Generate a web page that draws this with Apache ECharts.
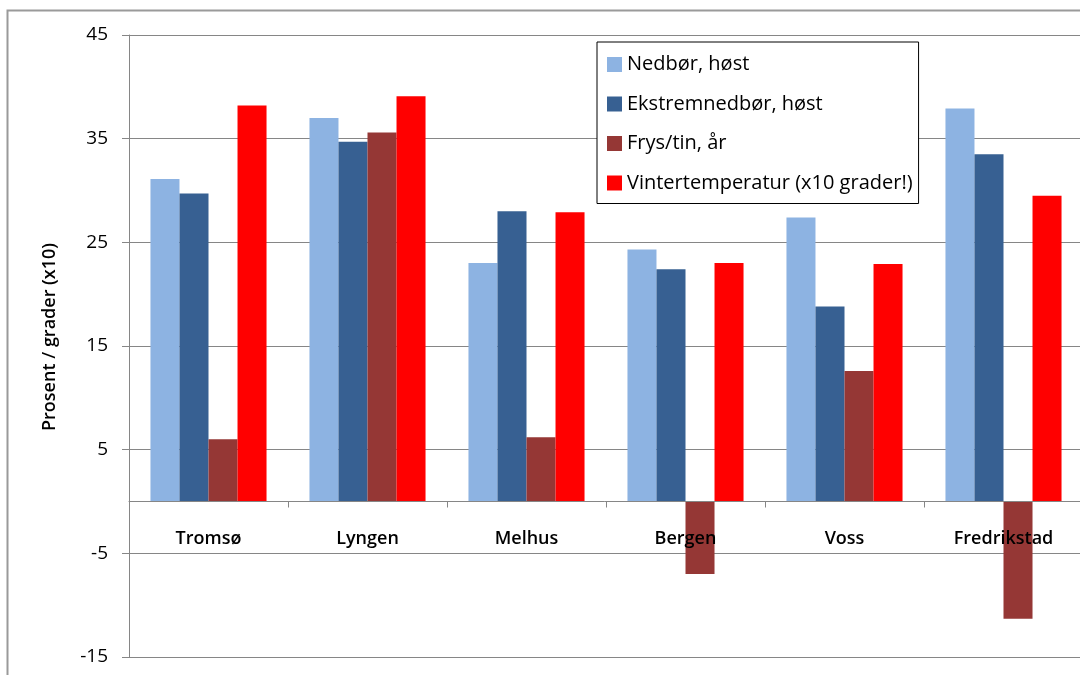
<!DOCTYPE html>
<html>
<head>
<meta charset="utf-8">
<script src="https://cdn.jsdelivr.net/npm/echarts@6/dist/echarts.min.js"></script>
<style>
  html, body { margin: 0; padding: 0; background: #fff; }
  #chart { width: 1080px; height: 675px; }
</style>
</head>
<body>
<div id="chart"></div>
<script>
// Stations along the x axis
const stations = ['Tromsø', 'Lyngen', 'Melhus', 'Bergen', 'Voss', 'Fredrikstad'];

// Series values (percent change; winter temperature in tenths of a degree)
const nedborHost = [31.1, 37.0, 23.0, 24.3, 27.4, 37.9];
const ekstremHost = [29.7, 34.7, 28.0, 22.4, 18.8, 33.5];
const frysTin = [6.0, 35.6, 6.2, -7.0, 12.6, -11.3];
const vinterTemp = [38.2, 39.1, 27.9, 23.0, 22.9, 29.5];

const seriesNames = [
  'Nedbør, høst',
  'Ekstremnedbør, høst',
  'Frys/tin, år',
  'Vintertemperatur (x10 grader!)'
];
const seriesColors = ['#8DB3E2', '#376092', '#953735', '#FF0000'];
const seriesData = [nedborHost, ekstremHost, frysTin, vinterTemp];

// Value axis range
const Y_MIN = -15, Y_MAX = 45, Y_STEP = 10;

const FONT = '"Open Sans", sans-serif';

// Plot area
const GRID_TOP = 35, GRID_BOTTOM = 18, GRID_LEFT = 129, GRID_WIDTH = 954;
const plotHeight = 675 - GRID_TOP - GRID_BOTTOM;
// Category axis sits on the zero line, with its labels just under it
const zeroOffset = -plotHeight * (0 - Y_MIN) / (Y_MAX - Y_MIN);

const chart = echarts.init(document.getElementById('chart'), null, { renderer: 'canvas' });

chart.setOption({
  backgroundColor: '#ffffff',
  animation: false,
  textStyle: { fontFamily: FONT },
  graphic: [{
    type: 'rect',
    silent: true,
    z: -1,
    shape: { x: 7.5, y: 10.5, width: 1100, height: 700 },
    style: { fill: 'none', stroke: '#9a9a9a', lineWidth: 2 }
  }],
  grid: {
    left: GRID_LEFT, top: GRID_TOP, width: GRID_WIDTH, bottom: GRID_BOTTOM,
    containLabel: false, outerBoundsMode: 'none'
  },
  legend: {
    orient: 'vertical',
    left: 597,
    top: 42,
    z: 20,
    backgroundColor: '#ffffff',
    borderColor: '#000000',
    borderWidth: 1,
    padding: [10, 6, 8, 10],
    itemWidth: 15,
    itemHeight: 15,
    itemGap: 14.5,
    icon: 'rect',
    selectedMode: false,
    textStyle: { fontFamily: FONT, fontSize: 20, color: '#000', lineHeight: 25 },
    data: seriesNames
  },
  xAxis: {
    type: 'category',
    data: stations,
    offset: zeroOffset,
    z: 10,
    axisLine: { onZero: false, lineStyle: { color: '#868686', width: 1 } },
    axisTick: { show: true, length: 6, lineStyle: { color: '#868686' } },
    axisLabel: { margin: 28, fontFamily: FONT, fontSize: 18, color: '#000', fontWeight: 600 },
    splitLine: { show: false }
  },
  yAxis: {
    type: 'value',
    min: Y_MIN,
    max: Y_MAX,
    interval: Y_STEP,
    name: 'Prosent / grader (x10)',
    nameLocation: 'middle',
    nameGap: 70,
    nameRotate: 90,
    nameTextStyle: { fontFamily: FONT, fontSize: 18, fontWeight: 600, color: '#000', padding: [0, 0, 0, 18] },
    axisLine: { show: true, lineStyle: { color: '#868686' } },
    axisTick: { show: true, length: 7, lineStyle: { color: '#868686' } },
    axisLabel: { margin: 21, fontFamily: FONT, fontSize: 19, color: '#000' },
    splitLine: { show: true, lineStyle: { color: '#868686', width: 1 } }
  },
  series: seriesNames.map((name, i) => ({
    name,
    type: 'bar',
    data: seriesData[i],
    barGap: '0%',
    barCategoryGap: '27%',
    itemStyle: { color: seriesColors[i] }
  }))
});
</script>
</body>
</html>
